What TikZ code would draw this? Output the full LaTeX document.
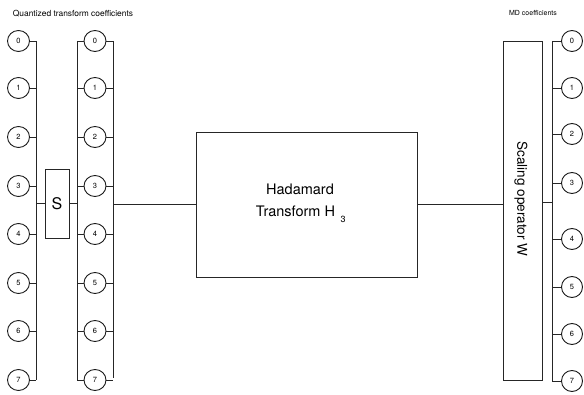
\documentclass[tikz,border=0pt]{standalone}
\usepackage{fontspec}
\setmainfont{TeX Gyre Heros}
\usetikzlibrary{shapes.geometric,calc}
\begin{document}
\begin{tikzpicture}[x=1pt,y=-1pt,
  wire/.style={draw=black!85,line width=0.9pt},
  coef/.style={ellipse,draw=black!90,line width=0.9pt,minimum width=22pt,minimum height=21pt,inner sep=0pt,font=\fontsize{7.5}{8}\selectfont},
  blockbox/.style={rectangle,draw=black!85,line width=0.9pt,inner sep=0pt},
  lbl/.style={inner sep=0pt}]
\useasboundingbox (0,0) rectangle (584,395);
% labels
\node[lbl,font=\fontsize{8.4}{9}\selectfont] (tq) at (73,14) {Quantized transform coefficients};
\node[lbl,font=\fontsize{7}{8}\selectfont] (tm) at (533,13) {MD coefficients};
% column 1
\coordinate (b1t) at (36,41);
\coordinate (b1b) at (36,380);
\draw[wire] (b1t) -- (b1b);
\foreach \i/\y in {0/41,1/88,2/137,3/186,4/234,5/283,6/331,7/380}{
  \node[coef] (a\i) at (18.5,\y) {\i};
  \draw[wire] (a\i.east) -- (a\i.east -| b1t);
}
% column 2
\coordinate (b2lt) at (77,41);
\coordinate (b2lb) at (77,380);
\coordinate (b2rt) at (113,41);
\coordinate (b2rb) at (113,378);
\draw[wire] (b2lt) -- (b2lb);
\draw[wire] (b2rt) -- (b2rb);
\foreach \i/\y in {0/41,1/88,2/137,3/186,4/234,5/283,6/331,7/380}{
  \node[coef] (c\i) at (95,\y) {\i};
  \draw[wire] (c\i.west) -- (c\i.west -| b2lt);
  \draw[wire] (c\i.east) -- (c\i.east -| b2rt);
}
% S box
\node[blockbox,minimum width=24pt,minimum height=69pt,font=\fontsize{16}{18}\selectfont] (S) at (57,203.5) {S};
\draw[wire] (S.west) -- (S.west -| b1t);
\draw[wire] (S.east) -- (S.east -| b2lt);
% Hadamard
\node[blockbox,minimum width=221pt,minimum height=145pt] (H) at (306.5,204.5) {};
\node[lbl,font=\fontsize{14.5}{16}\selectfont] (h1) at (300,189) {Hadamard};
\node[lbl,font=\fontsize{14.5}{16}\selectfont] (h2) at (295.5,211) {Transform H};
\node[lbl,font=\fontsize{9}{10}\selectfont] (h3) at (343,219) {3};
\draw[wire] (H.west) -- (H.west -| b2rt);
% Scaling operator W
\node[blockbox,minimum width=39pt,minimum height=339pt] (W) at (522.5,210.5) {};
\node[lbl,rotate=-90,font=\fontsize{13.5}{16}\selectfont] (wt) at (521,199) {Scaling operator W};
\draw[wire] (H.east) -- (H.east -| W.west);
% right bus
\coordinate (b3t) at (552,41);
\coordinate (b3b) at (552,381);
\draw[wire] (b3t) -- (b3b);
\coordinate (ws) at (542,202);
\draw[wire] (ws) -- (ws -| b3t);
\foreach \i/\y in {0/41,1/88,2/134,3/183,4/239,5/287,6/334,7/381}{
  \node[coef,minimum width=21pt] (d\i) at (572,\y) {\i};
  \draw[wire] (d\i.west) -- (d\i.west -| b3t);
}
\end{tikzpicture}
\end{document}
